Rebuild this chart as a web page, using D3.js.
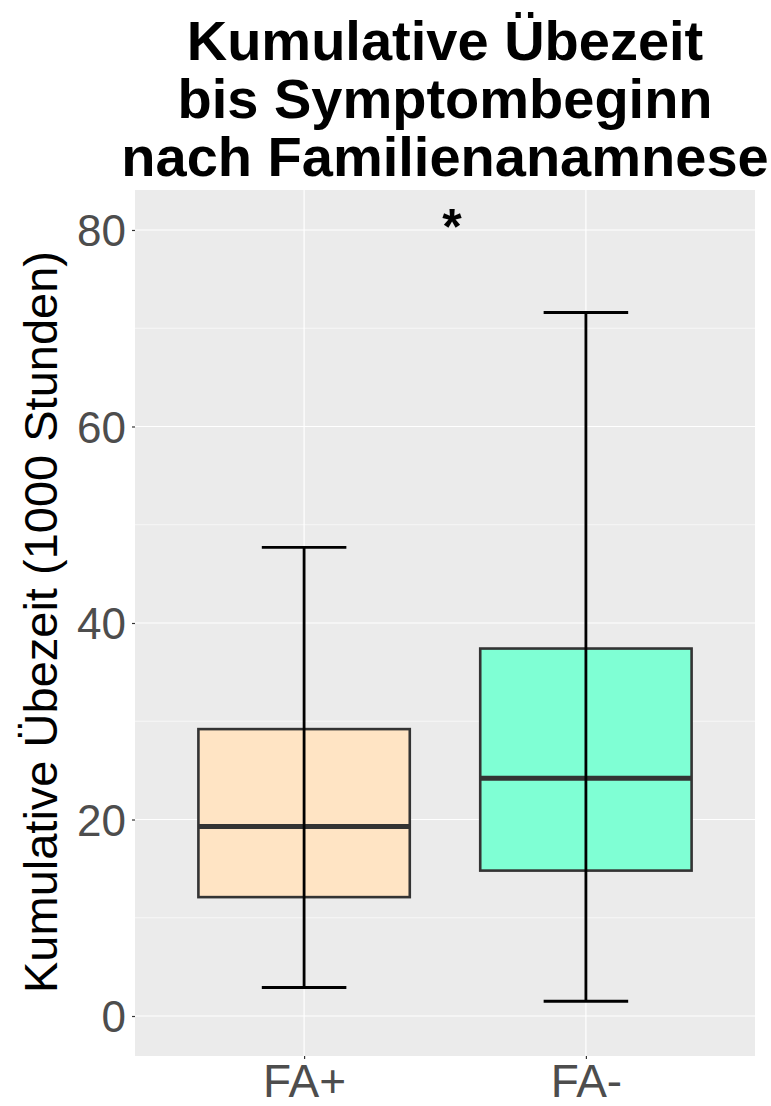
<!DOCTYPE html>
<html>
<head>
<meta charset="utf-8">
<script src="https://cdn.jsdelivr.net/npm/d3@7"></script>
<style>
  html, body { margin: 0; padding: 0; background: #fff; }
  svg { display: block; font-family: "Liberation Sans", Arial, sans-serif; }
</style>
</head>
<body>
<svg id="chart" width="771" height="1106"></svg>
<script>
// Groups and five-number summaries (thousand hours)
const groups = ["FA+", "FA-"];
const fills = ["#FFE4C4", "#7FFFD4"];
const whiskerLow = [2.9, 1.5];
const lowerHinge = [12.1, 14.8];
const medians = [19.3, 24.2];
const upperHinge = [29.2, 37.4];
const whiskerHigh = [47.7, 71.6];
const yTicks = [0, 20, 40, 60, 80];
const yMinor = [10, 30, 50, 70];
const significance = { label: "*", y: 80.5 };
const titleLines = ["Kumulative Übezeit", "bis Symptombeginn", "nach Familienanamnese"];
const yTitle = "Kumulative Übezeit (1000 Stunden)";

const svg = d3.select("#chart");
const panel = { left: 135, top: 190, right: 755, bottom: 1056 };

// category centres on a continuous scale (discrete expansion of 0.6)
const xc = d3.scaleLinear().domain([0.4, 2.6]).range([panel.left, panel.right]);
const y = d3.scaleLinear().domain([-4.07, 84.07]).range([panel.bottom, panel.top]);
const xAxisScale = d3.scalePoint().domain(groups).range([xc(1), xc(2)]);

// panel background
svg.append("rect")
  .attr("x", panel.left).attr("y", panel.top)
  .attr("width", panel.right - panel.left).attr("height", panel.bottom - panel.top)
  .attr("fill", "#EBEBEB");

// grid
const grid = svg.append("g");
grid.selectAll(".minor").data(yMinor).join("line")
  .attr("x1", panel.left).attr("x2", panel.right)
  .attr("y1", d => y(d)).attr("y2", d => y(d))
  .attr("stroke", "#fff").attr("stroke-width", 0.6);
grid.selectAll(".major").data(yTicks).join("line")
  .attr("x1", panel.left).attr("x2", panel.right)
  .attr("y1", d => y(d)).attr("y2", d => y(d))
  .attr("stroke", "#fff").attr("stroke-width", 1.2);
grid.selectAll(".vmajor").data(groups).join("line")
  .attr("x1", d => xAxisScale(d)).attr("x2", d => xAxisScale(d))
  .attr("y1", panel.top).attr("y2", panel.bottom)
  .attr("stroke", "#fff").attr("stroke-width", 1.2);

// y axis
const yAxis = svg.append("g")
  .attr("transform", `translate(${panel.left},0)`)
  .call(d3.axisLeft(y).tickValues(yTicks).tickSize(3).tickPadding(6));
yAxis.select(".domain").remove();
yAxis.selectAll(".tick line").attr("stroke", "#333").attr("stroke-width", 1.2);
yAxis.selectAll(".tick text")
  .attr("fill", "#4D4D4D").attr("font-size", 44)
  .attr("font-family", "Liberation Sans, Arial, sans-serif")
  .attr("dy", "0.36em");

// x axis
const xAxis = svg.append("g")
  .attr("transform", `translate(0,${panel.bottom})`)
  .call(d3.axisBottom(xAxisScale).tickSize(3).tickPadding(6));
xAxis.select(".domain").remove();
xAxis.selectAll(".tick line").attr("stroke", "#333").attr("stroke-width", 1.2);
xAxis.selectAll(".tick text")
  .attr("fill", "#4D4D4D").attr("font-size", 46)
  .attr("font-family", "Liberation Sans, Arial, sans-serif")
  .attr("dy", "0.7em");

// boxes
const boxWidth = xc(1.75) - xc(1);
const capWidth = xc(1.3) - xc(1);
const boxes = svg.append("g");
groups.forEach((g, i) => {
  const cx = xAxisScale(g);
  boxes.append("rect")
    .attr("x", cx - boxWidth / 2).attr("width", boxWidth)
    .attr("y", y(upperHinge[i])).attr("height", y(lowerHinge[i]) - y(upperHinge[i]))
    .attr("fill", fills[i]).attr("stroke", "#333").attr("stroke-width", 2.6);
  boxes.append("line")
    .attr("x1", cx - boxWidth / 2).attr("x2", cx + boxWidth / 2)
    .attr("y1", y(medians[i])).attr("y2", y(medians[i]))
    .attr("stroke", "#333").attr("stroke-width", 5);
  // error-bar whiskers drawn over the box
  boxes.append("line")
    .attr("x1", cx).attr("x2", cx)
    .attr("y1", y(whiskerLow[i])).attr("y2", y(whiskerHigh[i]))
    .attr("stroke", "#000").attr("stroke-width", 2.8);
  [whiskerLow[i], whiskerHigh[i]].forEach(v => {
    boxes.append("line")
      .attr("x1", cx - capWidth / 2).attr("x2", cx + capWidth / 2)
      .attr("y1", y(v)).attr("y2", y(v))
      .attr("stroke", "#000").attr("stroke-width", 2.8);
  });
});

// significance marker
svg.append("text")
  .attr("x", (xc(1) + xc(2)) / 2 + 7).attr("y", y(significance.y))
  .attr("text-anchor", "middle").attr("dy", "0.38em")
  .attr("font-size", 50).attr("font-weight", "bold")
  .text(significance.label);

// title
const cxPanel = (panel.left + panel.right) / 2;
svg.append("text")
  .attr("text-anchor", "middle").attr("font-size", 56).attr("font-weight", "bold")
  .attr("fill", "#000")
  .selectAll("tspan").data(titleLines).join("tspan")
  .attr("x", cxPanel).attr("y", (d, i) => 60 + i * 58)
  .text(d => d);

// y-axis title
svg.append("text")
  .attr("transform", `translate(57,${(panel.top + panel.bottom) / 2 - 1}) rotate(-90)`)
  .attr("text-anchor", "middle").attr("font-size", 47).attr("fill", "#000")
  .text(yTitle);
</script>
</body>
</html>
